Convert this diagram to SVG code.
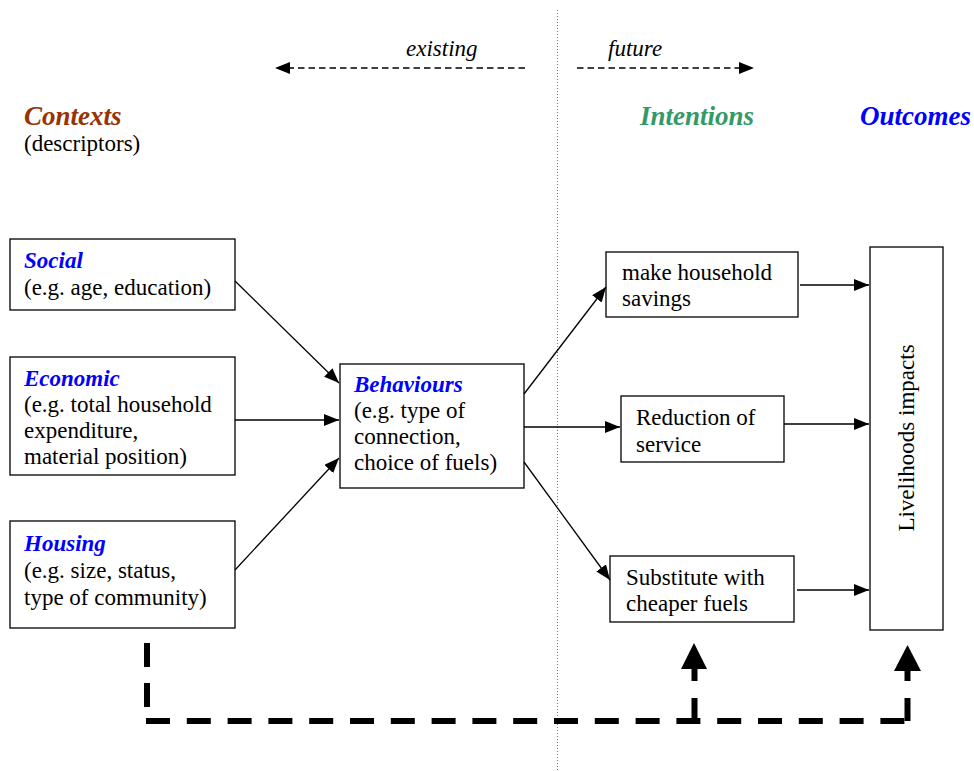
<svg xmlns="http://www.w3.org/2000/svg" width="974" height="771" viewBox="0 0 974 771">
<style>
text{font-family:'Liberation Serif','DejaVu Serif',serif;font-size:23px;fill:#000}
.hd{font-weight:bold;font-style:italic;font-size:27px}
.sub{font-weight:bold;font-style:italic;fill:#0000ff}
.it{font-style:italic}
.box{fill:#fff;stroke:#000;stroke-width:1.3}
.con{stroke:#000;stroke-width:1.3;fill:none;marker-end:url(#ah)}
.thin{stroke:#000;stroke-width:1.3;fill:none;stroke-dasharray:6.5 4}
.thick{stroke:#000;stroke-width:6;fill:none}
</style>
<defs>
<marker id="ah" viewBox="0 0 15 12" refX="15" refY="6" markerWidth="15" markerHeight="12" markerUnits="userSpaceOnUse" orient="auto">
<path d="M0,0 L15,6 L0,12 z" fill="#000"/>
</marker>
</defs>
<rect width="974" height="771" fill="#fff"/>
<line x1="557.5" y1="10" x2="557.5" y2="771" stroke="#777" stroke-width="1" stroke-dasharray="1 2"/>
<g id="headers">
<text class="it" x="406" y="56">existing</text>
<text class="it" x="608" y="56">future</text>
<text class="hd" x="24" y="125" style="fill:#993300">Contexts</text>
<text x="24" y="151">(descriptors)</text>
<text class="hd" x="640" y="125" style="fill:#339966">Intentions</text>
<text class="hd" x="860" y="125" style="fill:#0000ff">Outcomes</text>
</g>
<g id="timeline">
<line class="thin" x1="525" y1="68" x2="290" y2="68"/>
<polygon points="275,68 290,62 290,74" fill="#000"/>
<line class="thin" x1="577" y1="68" x2="740" y2="68"/>
<polygon points="754,68 739,62 739,74" fill="#000"/>
</g>
<g id="social">
<rect class="box" x="10" y="239" width="225" height="71"/>
<text class="sub" x="24" y="268">Social</text>
<text x="24" y="295">(e.g. age, education)</text>
</g>
<g id="economic">
<rect class="box" x="10" y="357" width="225" height="118"/>
<text class="sub" x="24" y="386">Economic</text>
<text x="24" y="412">(e.g. total household</text>
<text x="24" y="438">expenditure,</text>
<text x="24" y="464">material position)</text>
</g>
<g id="housing">
<rect class="box" x="10" y="521" width="225" height="107"/>
<text class="sub" x="24" y="551">Housing</text>
<text x="24" y="578">(e.g. size, status,</text>
<text x="24" y="605">type of community)</text>
</g>
<g id="behaviours">
<rect class="box" x="340" y="364" width="184" height="124"/>
<text class="sub" x="354" y="392">Behaviours</text>
<text x="354" y="418">(e.g. type of</text>
<text x="354" y="444">connection,</text>
<text x="354" y="470">choice of fuels)</text>
</g>
<g id="savings">
<rect class="box" x="606" y="252" width="192" height="65"/>
<text x="622" y="280">make household</text>
<text x="622" y="306">savings</text>
</g>
<g id="reduction">
<rect class="box" x="621" y="396" width="163" height="66"/>
<text x="636" y="425">Reduction of</text>
<text x="636" y="452">service</text>
</g>
<g id="substitute">
<rect class="box" x="610" y="556" width="184" height="66"/>
<text x="626" y="585">Substitute with</text>
<text x="626" y="611">cheaper fuels</text>
</g>
<g id="livelihoods">
<rect class="box" x="870" y="247" width="73" height="383"/>
<text x="0" y="0" text-anchor="middle" transform="translate(914,438) rotate(-90)">Livelihoods impacts</text>
</g>
<g id="connectors">
<line class="con" x1="235" y1="281" x2="339" y2="383"/>
<line class="con" x1="235" y1="420" x2="339" y2="420"/>
<line class="con" x1="235" y1="570" x2="339" y2="458"/>
<line class="con" x1="524" y1="394" x2="606" y2="287"/>
<line class="con" x1="524" y1="427" x2="620" y2="427"/>
<line class="con" x1="524" y1="462" x2="610" y2="580"/>
<line class="con" x1="800" y1="285" x2="869" y2="285"/>
<line class="con" x1="784" y1="424" x2="869" y2="424"/>
<line class="con" x1="797" y1="590" x2="869" y2="590"/>
<line class="thick" x1="147" y1="643" x2="147" y2="721" stroke-dasharray="24 16"/>
<line class="thick" x1="146" y1="721" x2="908" y2="721" stroke-dasharray="24 16.8"/>
<line class="thick" x1="694.5" y1="721" x2="694.5" y2="668" stroke-dasharray="23 17"/>
<line class="thick" x1="907.5" y1="721" x2="907.5" y2="670" stroke-dasharray="23 17"/>
<polygon points="694,643 707,669 681,669" fill="#000"/>
<polygon points="907.5,645 921,671 894,671" fill="#000"/>
</g>
</svg>
